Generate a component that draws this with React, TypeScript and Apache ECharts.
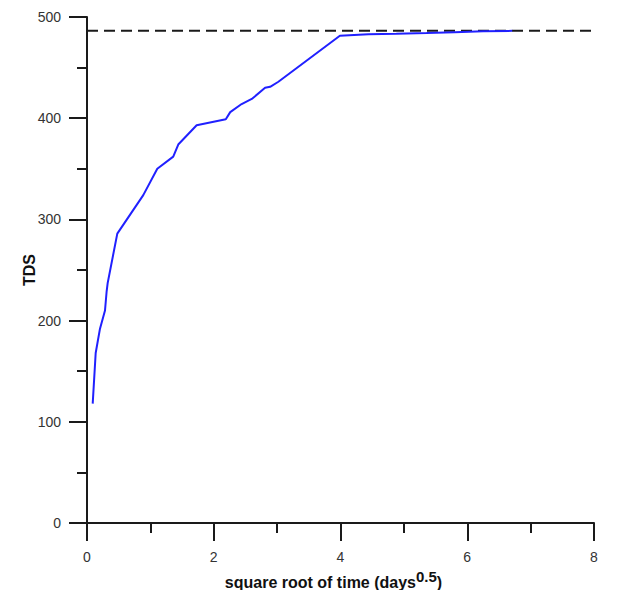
import React, { useEffect, useRef } from "react";
import * as echarts from "echarts";

const sqrtTime = [0.09, 0.137, 0.205, 0.284, 0.31, 0.326, 0.478, 0.888, 1.109, 1.361, 1.44, 1.73, 2.19, 2.26, 2.44, 2.6, 2.81, 2.89, 3.02, 3.99, 4.44, 4.88, 5.36, 5.8, 6.25, 6.71];
const tds = [118, 168, 192, 210, 229, 237, 286, 324, 350, 362, 374, 393, 399, 406, 414, 419, 430, 431, 436, 481.5, 483, 483.5, 484.2, 485, 485.8, 486.3];
const plateauX = [0, 8.57];
const plateauY = 486.5;

const FONT = "Liberation Sans, Arial, sans-serif";

export default function App() {
  const ref = useRef<HTMLDivElement>(null);
  useEffect(() => {
    if (!ref.current) return;
    const chart = echarts.init(ref.current, null, { renderer: "svg" });
    const axisLine = { show: true, onZero: false, lineStyle: { color: "#1a1a1a", width: 2 } };
    chart.setOption({
      animation: false,
      backgroundColor: "#ffffff",
      grid: { left: 87, top: 17, width: 507, height: 506, containLabel: false, outerBoundsMode: "none" },
      xAxis: {
        type: "value",
        min: 0,
        max: 8,
        interval: 2,
        axisLine,
        axisTick: { show: true, length: 18, lineStyle: { color: "#1a1a1a", width: 2 } },
        minorTick: { show: true, splitNumber: 2, length: 10, lineStyle: { color: "#1a1a1a", width: 2 } },
        splitLine: { show: false },
        axisLabel: { margin: 27, color: "#333", fontSize: 14, fontFamily: FONT },
        name: "{a|square root of time (days}{b|0.5}{a|)}",
        nameLocation: "middle",
        nameGap: 46,
        nameMoveOverlap: false,
        nameTextStyle: {
          padding: [0, 14, 0, 0],
          rich: {
            a: { fontSize: 16, fontWeight: "bold", color: "#111", fontFamily: FONT, verticalAlign: "bottom", lineHeight: 21 },
            b: { fontSize: 15, fontWeight: "bold", color: "#111", fontFamily: FONT, verticalAlign: "top", lineHeight: 15 },
          },
        },
      },
      yAxis: {
        type: "value",
        min: 0,
        max: 500,
        interval: 100,
        axisLine,
        axisTick: { show: true, length: 18, lineStyle: { color: "#1a1a1a", width: 2 } },
        minorTick: { show: true, splitNumber: 2, length: 10, lineStyle: { color: "#1a1a1a", width: 2 } },
        splitLine: { show: false },
        axisLabel: { margin: 26, color: "#333", fontSize: 14, fontFamily: FONT },
        name: "TDS",
        nameLocation: "middle",
        nameGap: 50,
        nameMoveOverlap: false,
        nameTextStyle: { fontSize: 16, fontWeight: "bold", color: "#111", fontFamily: FONT },
      },
      series: [
        {
          type: "line",
          data: plateauX.map((x) => [x, plateauY]),
          showSymbol: false,
          clip: false,
          lineStyle: { color: "#1a1a1a", width: 2, type: [11, 6] },
          silent: true,
        },
        {
          type: "line",
          data: sqrtTime.map((x, i) => [x, tds[i]]),
          showSymbol: false,
          lineStyle: { color: "#2020ff", width: 2 },
        },
      ],
    });
    return () => chart.dispose();
  }, []);
  return <div ref={ref} style={{ width: 638, height: 590, position: "absolute", left: 0, top: 0 }} />;
}
